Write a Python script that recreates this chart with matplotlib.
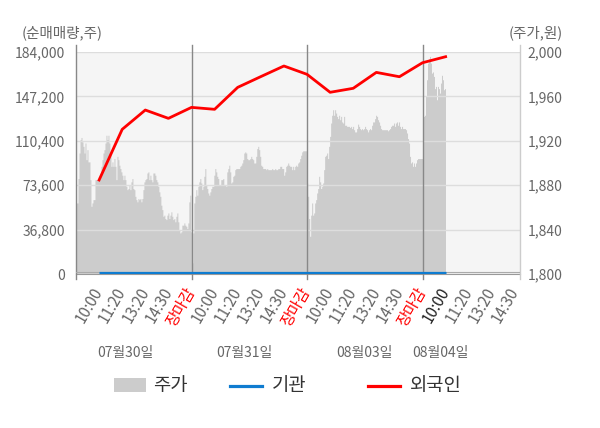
import numpy as np
import matplotlib
matplotlib.use('Agg')
import matplotlib.pyplot as plt
from matplotlib.patches import Rectangle
from matplotlib.lines import Line2D
import matplotlib.transforms as mtransforms

plt.rcParams['font.family'] = ['Noto Sans CJK KR', 'DejaVu Sans']

# ---------------- data ----------------
day_labels = ['07월30일', '07월31일', '08월03일', '08월04일']
tick_labels = ['10:00', '11:20', '13:20', '14:30', '장마감',
               '10:00', '11:20', '13:20', '14:30', '장마감',
               '10:00', '11:20', '13:20', '14:30', '장마감',
               '10:00', '11:20', '13:20', '14:30']
legend_labels = ['주가', '기관', '외국인']

price_day1 = [1864, 1864, 1886, 1909, 1921, 1923, 1919, 1915, 1909, 1918,
              1903, 1912, 1901, 1901, 1885, 1861, 1864, 1867, 1867, 1885,
              1885, 1885, 1885, 1885, 1889, 1897, 1903, 1909, 1912, 1918,
              1925, 1921, 1925, 1918, 1909, 1897, 1901, 1897, 1904, 1897,
              1885, 1906, 1903, 1898, 1895, 1892, 1889, 1885, 1889, 1885,
              1879, 1876, 1877, 1880, 1876, 1883, 1886, 1877, 1876, 1870,
              1867, 1865, 1868, 1867, 1868, 1865, 1868, 1876, 1883, 1885,
              1886, 1891, 1892, 1885, 1889, 1885, 1883, 1891, 1891, 1889,
              1885, 1883, 1879, 1874, 1870, 1862, 1858, 1852, 1853, 1850,
              1849, 1853, 1855, 1850, 1853, 1856, 1852, 1849, 1850, 1847,
              1852, 1855, 1847, 1840, 1837, 1838, 1844, 1844, 1846, 1844,
              1843, 1841, 1846, 1865, 1871]
price_day2 = [1838, 1810, 1837, 1864, 1870, 1876, 1871, 1879, 1883, 1886,
              1882, 1876, 1879, 1888, 1895, 1880, 1877, 1873, 1871, 1874,
              1877, 1879, 1879, 1889, 1895, 1892, 1888, 1886, 1880, 1880,
              1885, 1885, 1886, 1880, 1880, 1879, 1892, 1895, 1898, 1892,
              1882, 1883, 1888, 1889, 1894, 1895, 1895, 1895, 1895, 1897,
              1898, 1900, 1903, 1909, 1910, 1909, 1904, 1903, 1903, 1904,
              1906, 1904, 1903, 1900, 1900, 1906, 1913, 1915, 1912, 1906,
              1898, 1897, 1895, 1895, 1895, 1894, 1895, 1894, 1894, 1894,
              1894, 1895, 1894, 1894, 1895, 1894, 1894, 1895, 1895, 1897,
              1897, 1895, 1895, 1889, 1892, 1897, 1898, 1900, 1898, 1897,
              1897, 1894, 1897, 1894, 1897, 1898, 1897, 1900, 1901, 1904,
              1907, 1910, 1911, 1911, 1911, 1911]
price_day3 = [1882, 1870, 1850, 1834, 1853, 1864, 1853, 1855, 1864, 1867,
              1873, 1877, 1888, 1883, 1877, 1879, 1882, 1894, 1906, 1907,
              1909, 1904, 1915, 1924, 1936, 1943, 1948, 1943, 1948, 1945,
              1942, 1940, 1943, 1939, 1942, 1937, 1936, 1942, 1934, 1934,
              1933, 1933, 1933, 1932, 1933, 1931, 1933, 1930, 1928, 1928,
              1931, 1935, 1933, 1931, 1930, 1931, 1930, 1931, 1933, 1931,
              1930, 1928, 1930, 1931, 1930, 1934, 1937, 1937, 1940, 1943,
              1942, 1939, 1937, 1934, 1931, 1930, 1930, 1930, 1930, 1930,
              1930, 1929, 1930, 1931, 1933, 1934, 1934, 1936, 1933, 1936,
              1937, 1934, 1937, 1933, 1931, 1933, 1931, 1931, 1931, 1930,
              1927, 1922, 1918, 1906, 1900, 1901, 1897, 1900, 1897, 1900,
              1903, 1904, 1904, 1904, 1904, 1904]
price_day4 = [1936, 1942, 1943, 1960, 1975, 1990, 1994, 1996, 1990, 1981,
              1982, 1978, 1967, 1969, 1957, 1969, 1967, 1963, 1972, 1979,
              1975, 1966, 1967]

foreign = [77900, 119900, 135900, 129000, 138100, 136500, 154700, 163600,
           172400, 165500, 150600, 153900, 167100, 163500, 175100, 180100]
institution = [1000, 1000, 1000, 1000, 1000, 1000, 1000, 1000,
               1000, 1000, 1000, 1000, 1000, 1000, 1000, 1000]

left_ticks = [0, 36800, 73600, 110400, 147200, 184000]
right_ticks = [1800, 1840, 1880, 1920, 1960, 2000]

# ---------------- layout ----------------
W, H = 600, 428
C_PRICE = '#cccccc'
C_INST = '#0F7CD0'
C_FOR = '#ff0000'
C_TXT = '#666666'

price = np.array(price_day1 + price_day2 + price_day3 + price_day4, dtype=float)
full_day = (len(price_day1) + len(price_day2) + len(price_day3)) / 3.0
slot = full_day / 5.0
tick_pos = slot * np.arange(1, len(tick_labels) + 1)
x_max = slot * (len(tick_labels) + 0.22)

fig = plt.figure(figsize=(W / 100, H / 100), dpi=100)
ax = fig.add_axes([76 / W, 1 - 274 / H, 444 / W, 222 / H])
ax2 = ax.twinx()
ax.set_zorder(ax2.get_zorder() + 1)
ax.patch.set_visible(False)
ax2.patch.set_visible(True)
ax2.patch.set_facecolor('#f5f5f5')

# price area (right axis)
xs = np.arange(len(price) + 1)
ax2.fill_between(xs, np.append(price, price[-1]), 1800, step='post',
                 color=C_PRICE, linewidth=0, zorder=1)
ax2.set_ylim(1800, 2000)
ax2.set_yticks(right_ticks)
ax2.set_yticklabels([f'{v:,}' for v in right_ticks])

# lines (left axis)
ax.set_xlim(0, x_max)
ax.set_ylim(0, 184000)
ax.set_yticks(left_ticks)
ax.set_yticklabels([f'{v:,}' for v in left_ticks])
ax.grid(axis='y', color='#dddddd', linewidth=1, zorder=0)
ax.set_axisbelow(False)

ybot, ytop = -5 / 222, 1 + 7 / 222
# frame verticals (extend slightly beyond plot area)
ax.axvline(0, ymin=ybot, ymax=ytop, color='#888888', linewidth=1, clip_on=False, zorder=3)
ax.axvline(x_max, ymin=ybot, ymax=ytop, color='#cccccc', linewidth=1, clip_on=False, zorder=3)
# day separators
for k, lab in enumerate(tick_labels):
    if lab == '장마감':
        ax.axvline(tick_pos[k], ymin=ybot, ymax=ytop, color='#888888',
                   linewidth=1, clip_on=False, zorder=3)

ax.axhline(1500, color='#aaaaaa', linewidth=0.8, zorder=3)
ax.plot(tick_pos[:len(institution)], institution, color=C_INST, linewidth=2.3,
        zorder=4, solid_capstyle='butt')
ax.plot(tick_pos[:len(foreign)], foreign, color=C_FOR, linewidth=2.0, zorder=5)

# x ticks
ax.set_xticks(tick_pos)
ax.set_xticklabels(tick_labels, rotation=60, ha='right', va='center',
                   rotation_mode='anchor', fontsize=11)
for k, t in enumerate(ax.get_xticklabels()):
    if tick_labels[k] == '장마감':
        t.set_color(C_FOR)
    elif k == 15:
        t.set_color('#222222')
    else:
        t.set_color(C_TXT)
ax.tick_params(axis='x', length=0, pad=10.5)

ax.tick_params(axis='y', length=0, pad=8, labelsize=10, labelcolor=C_TXT)
ax2.tick_params(axis='y', length=0, pad=5.5, labelsize=10, labelcolor=C_TXT)

for a in (ax, ax2):
    for s in ('top', 'left', 'right'):
        a.spines[s].set_visible(False)
ax.spines['bottom'].set_color('#999999')
ax2.spines['bottom'].set_visible(False)

# axis titles
fig.text(22 / W, 1 - 33 / H, '(순매매량,주)', fontsize=10.5, color=C_TXT,
         ha='left', va='center')
fig.text(563 / W, 1 - 33 / H, '(주가,원)', fontsize=10.5, color=C_TXT,
         ha='right', va='center')

# day labels
trans = mtransforms.blended_transform_factory(ax.transData, ax.transAxes)
day_centers = [49, 169, 289, 365]
for c, lab in zip(day_centers, day_labels):
    ax.text(c, -0.356, lab, transform=trans, ha='center', va='center',
            fontsize=10, color=C_TXT)

# legend (drawn manually)
ly = 1 - 386 / H
fig.add_artist(Rectangle((114 / W, 1 - 392 / H), 32 / W, 14 / H,
                         facecolor=C_PRICE, edgecolor='none', transform=fig.transFigure))
fig.add_artist(Line2D([230 / W, 262 / W], [ly, ly], color=C_INST, linewidth=2.3,
                      transform=fig.transFigure))
fig.add_artist(Line2D([368 / W, 400 / W], [ly, ly], color=C_FOR, linewidth=2.3,
                      transform=fig.transFigure))
for xpix, lab in zip([153, 272, 410], legend_labels):
    fig.text(xpix / W, ly, lab, fontsize=13.5, color='#333333',
             ha='left', va='center')

fig.savefig('out.png', dpi=100)
